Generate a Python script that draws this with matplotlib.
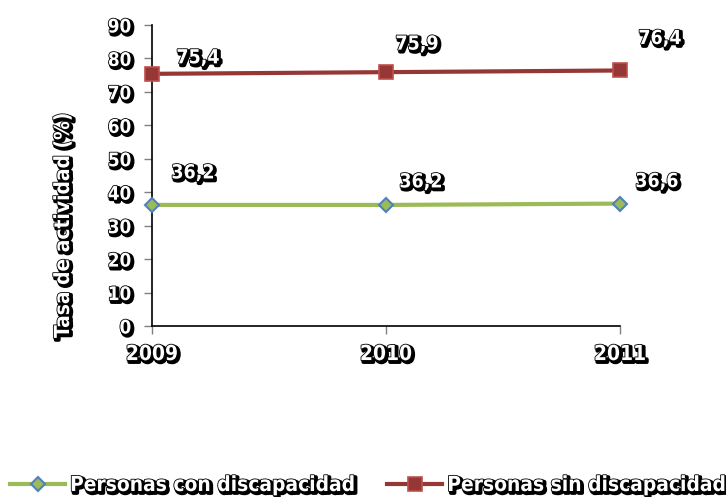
import matplotlib
matplotlib.use("Agg")
import matplotlib.pyplot as plt
import matplotlib.patheffects as pe

years = ["2009", "2010", "2011"]
con_disc = [36.2, 36.2, 36.6]
sin_disc = [75.4, 75.9, 76.4]
labels_con = ["36,2", "36,2", "36,6"]
labels_sin = ["75,4", "75,9", "76,4"]

plt.rcParams["font.family"] = ["DejaVu Sans"]
plt.rcParams["font.weight"] = "bold"
plt.rcParams["font.stretch"] = "condensed"

# white letters with a black outline and drop shadow
shadow = [pe.Stroke(linewidth=2.8, foreground="black", offset=(1.4, -1.4)),
          pe.Stroke(linewidth=1.2, foreground="black"),
          pe.Normal()]

fig = plt.figure(figsize=(7.26, 4.97), dpi=100)
ax = fig.add_axes([152 / 726, 1 - 326 / 497, 468 / 726, 301 / 497])

x = list(range(len(years)))
ax.plot(x, con_disc, color="#9BBB59", lw=3, marker="D", ms=7,
        mfc="#9BBB59", mec="#4F81BD", mew=1.5, clip_on=False,
        label="Personas con discapacidad", zorder=3)
ax.plot(x, sin_disc, color="#953735", lw=3, marker="s", ms=10,
        mfc="#953735", mec="#C0504D", mew=1.2, clip_on=False,
        label="Personas sin discapacidad", zorder=3)

ax.set_xlim(0, 2)
ax.set_ylim(0, 90)
ax.set_yticks(range(0, 91, 10))
ax.set_xticks(x)
ax.set_xticklabels(years)

for s in ["top", "right"]:
    ax.spines[s].set_visible(False)
ax.spines["left"].set_linewidth(1.2)
ax.spines["bottom"].set_linewidth(1.2)
ax.tick_params(axis="both", colors="#808080", length=6, width=1,
               labelcolor="white")
ax.tick_params(axis="y", pad=9, labelsize=13.5)
ax.tick_params(axis="x", pad=7, labelsize=15)
for t in ax.get_xticklabels() + ax.get_yticklabels():
    t.set_path_effects(shadow)

# value labels (offsets in px)
off_sin = [(46, 16), (31, 28), (40, 32)]
off_con = [(41, 32), (35, 23), (37, 22)]
for xi, v, lab, (dx, dy) in zip(x, sin_disc, labels_sin, off_sin):
    ax.annotate(lab, (xi, v), xytext=(dx * 0.72, dy * 0.72),
                textcoords="offset points", ha="center", va="center",
                fontsize=14, color="white", path_effects=shadow)
for xi, v, lab, (dx, dy) in zip(x, con_disc, labels_con, off_con):
    ax.annotate(lab, (xi, v), xytext=(dx * 0.72, dy * 0.72),
                textcoords="offset points", ha="center", va="center",
                fontsize=14, color="white", path_effects=shadow)

fig.text(63 / 726, 1 - 225 / 497, "Tasa de actividad (%)", rotation=90,
         ha="center", va="center", fontsize=15, color="white",
         path_effects=shadow)

leg = fig.legend(loc="center left", bbox_to_anchor=(10 / 726, 1 - 485 / 497),
                 ncol=2, frameon=False, fontsize=15, handlelength=2.64,
                 handletextpad=0.24, columnspacing=1.5, borderaxespad=0,
                 borderpad=0)
for t in leg.get_texts():
    t.set_color("white")
    t.set_path_effects(shadow)

fig.savefig("out.png", dpi=100)
